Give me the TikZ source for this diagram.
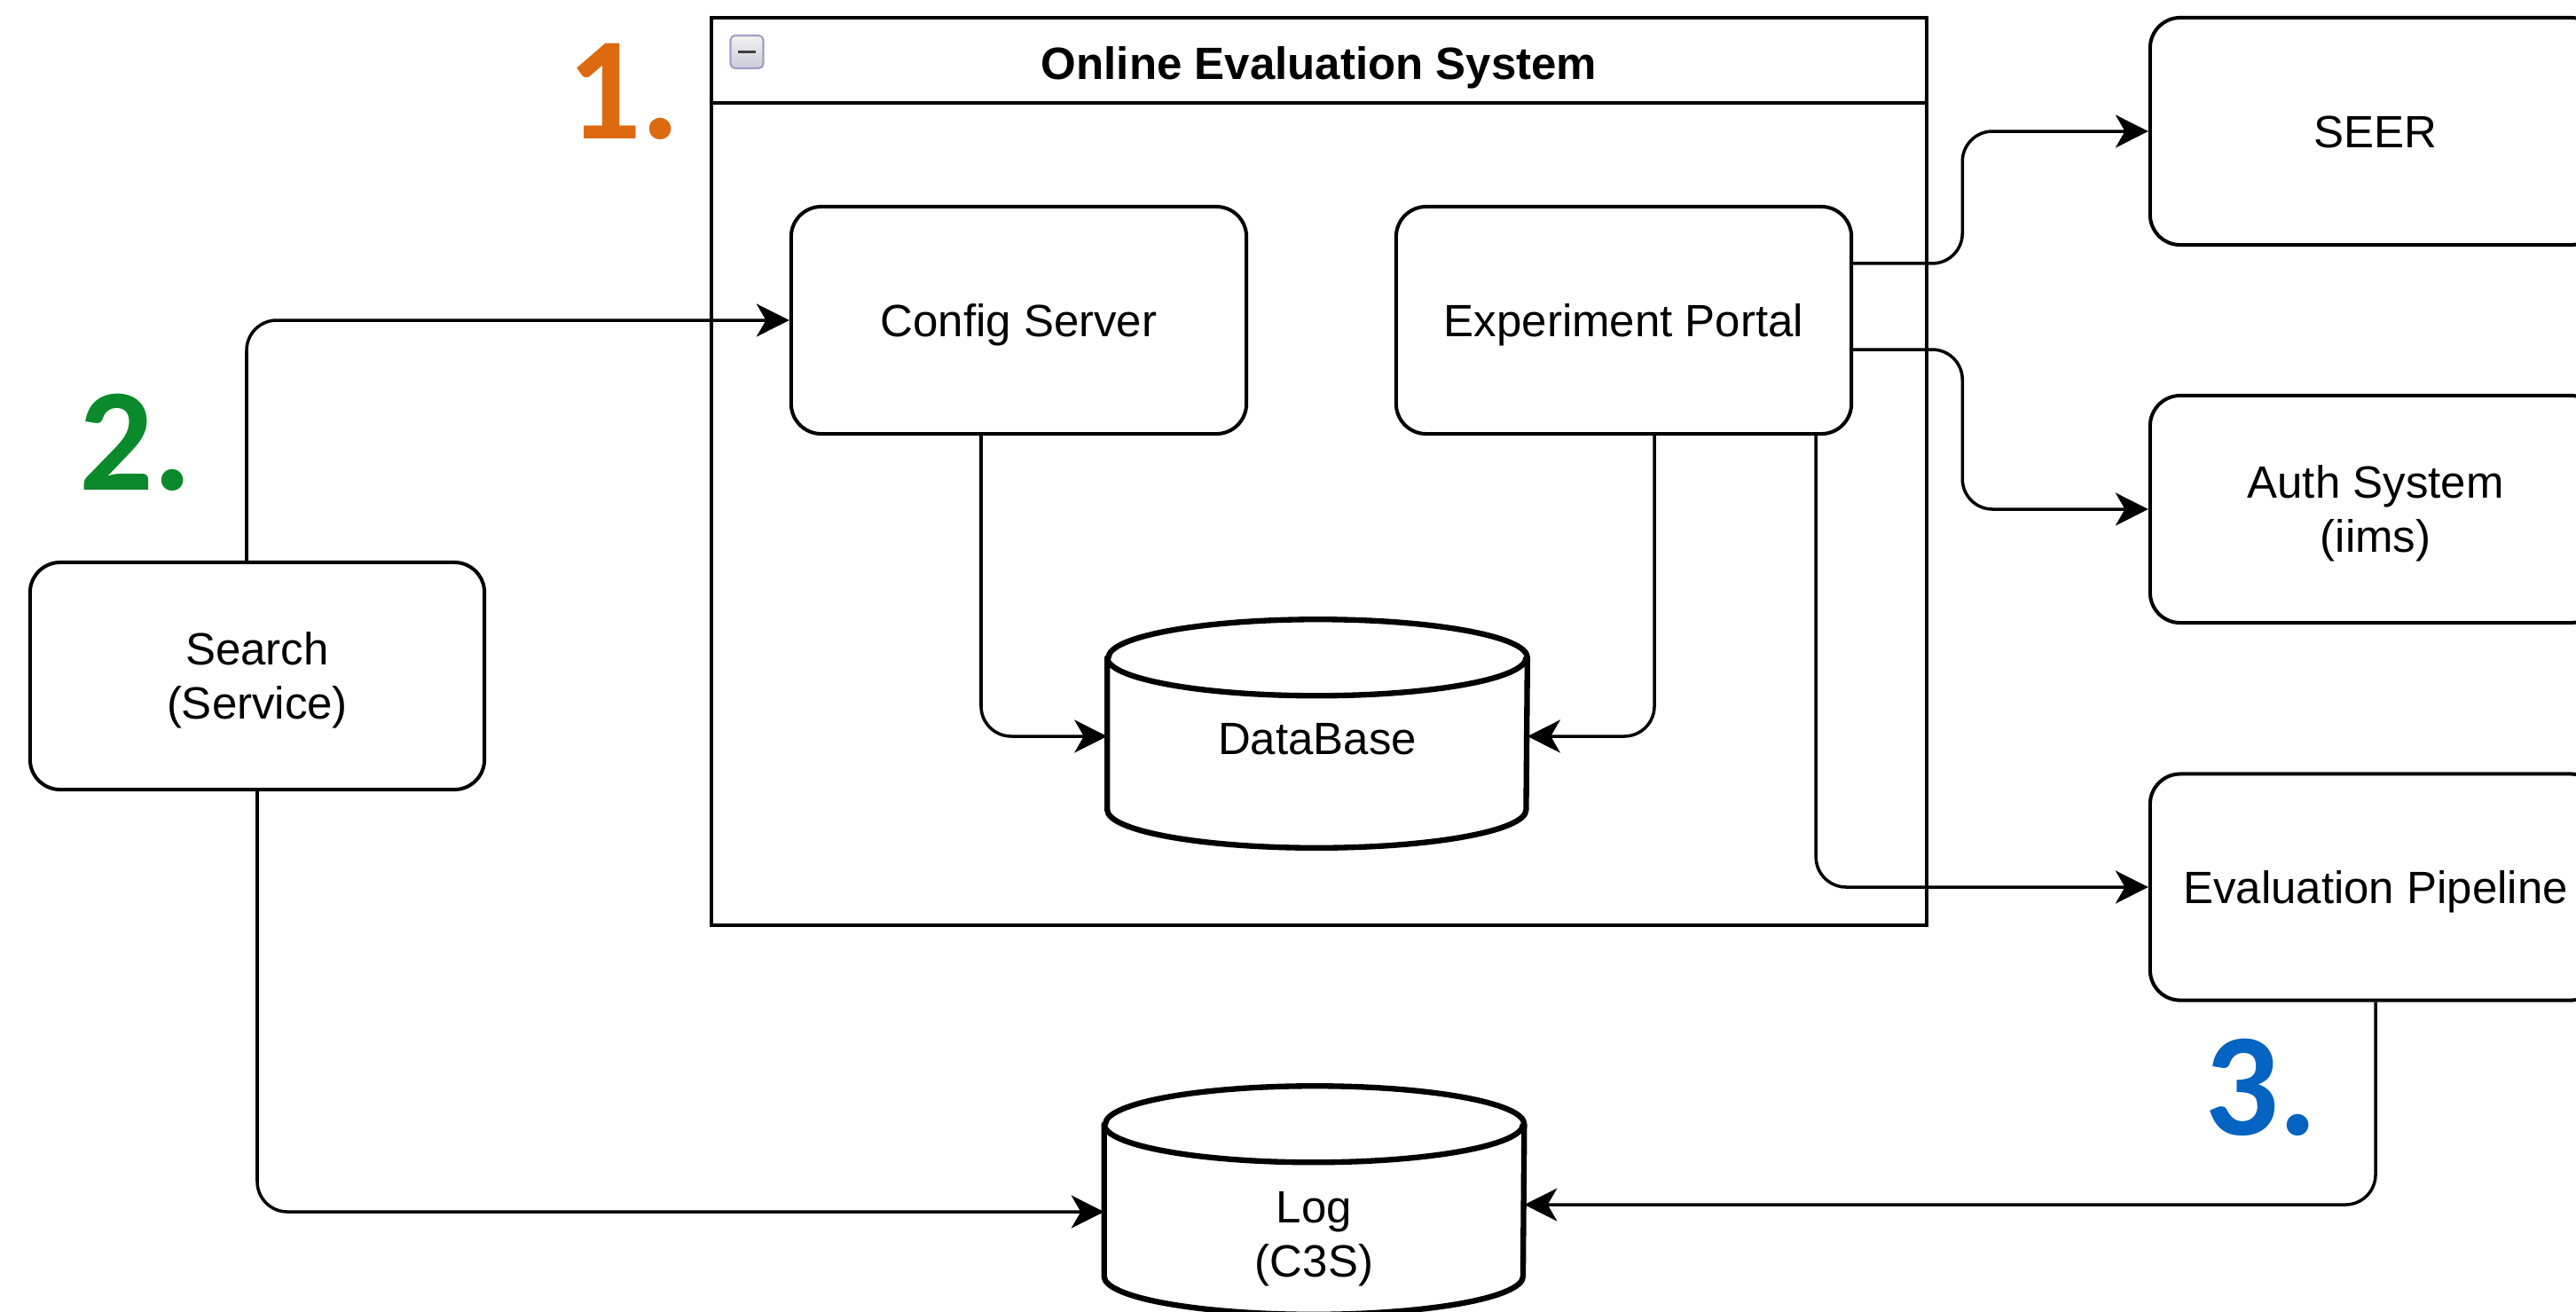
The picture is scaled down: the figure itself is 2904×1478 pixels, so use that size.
\documentclass[tikz,border=0pt]{standalone}
\usepackage{fontspec}
\setmainfont{Liberation Sans}
\newfontfamily\numfont{Carlito}
\usetikzlibrary{arrows.meta}

\definecolor{numorange}{HTML}{DD6A10}
\definecolor{numgreen}{HTML}{0B8A2C}
\definecolor{numblue}{HTML}{0563C1}

% database cylinder drawn over an empty node of the same size
\newcommand\drawcyl[1]{%
  \path[cyl] ([yshift=-0.43cm]#1.north west) -- ([yshift=0.43cm]#1.south west)
    arc[start angle=180, end angle=360, x radius=2.36cm, y radius=0.43cm]
    -- ([yshift=-0.43cm]#1.north east)
    arc[start angle=0, end angle=180, x radius=2.36cm, y radius=0.43cm] -- cycle;
  \draw[line width=1.8pt] ([yshift=-0.43cm]#1.north west)
    arc[start angle=180, end angle=360, x radius=2.36cm, y radius=0.43cm];}

\begin{document}
\begin{tikzpicture}[x=0.01cm, y=0.01cm,
  font=\fontsize{14.5pt}{17.4pt}\selectfont,
  lbl/.style={text height=10.4pt, text depth=0pt, align=center},
  lbltwo/.style={text height=27.8pt, text depth=0pt, align=center},
  svcbox/.style={draw, line width=1.15pt, rounded corners=0.34cm, fill=white,
    minimum width=5.12cm, minimum height=2.56cm, inner sep=0},
  svc/.style={svcbox, lbl},
  svctwo/.style={svcbox, lbltwo},
  cylbody/.style={minimum width=4.72cm, minimum height=2.56cm, inner sep=0},
  cyl/.style={draw, line width=1.8pt, fill=white, line join=round},
  conn/.style={line width=1pt, rounded corners=0.34cm,
    -{Stealth[length=10.5pt, width=10.5pt, inset=3pt]}},
  num/.style={font=\numfont\bfseries\fontsize{47pt}{47pt}\selectfont,
    anchor=base, inner sep=0}
]
\useasboundingbox (0,0) rectangle (2904,-1478);
\clip (0,0) rectangle (2904,-1478);

% container
\node[draw, line width=1.15pt, minimum width=13.70cm, minimum height=10.23cm,
  inner sep=0] (oes) at (1487,-531.5) {};
\draw[line width=1.15pt] ([yshift=-0.98cm]oes.north west) -- ([yshift=-0.98cm]oes.north east);
\node[lbl] (title) at (1487,-71) {\bfseries Online Evaluation System};
\node[draw=gray!75!blue!60, line width=0.6pt, rounded corners=1.5pt,
  top color=gray!10, bottom color=blue!15!gray!35, minimum size=0.37cm,
  inner sep=0] (collapse) at (842,-58.5) {};
\draw[line width=1.1pt, black!75] ([xshift=-0.1cm]collapse.center) -- ([xshift=0.1cm]collapse.center);

% services
\node[svctwo] (search) at (290,-762) {Search\\(Service)};
\node[svc, minimum width=5.13cm] (cfg) at (1148.5,-361) {Config Server};
\node[svc, minimum width=5.13cm] (portal) at (1830.5,-361) {Experiment Portal};
\node[svc, minimum width=5.08cm] (seer) at (2678,-148) {SEER};
\node[svctwo, minimum width=5.08cm] (auth) at (2678,-574) {Auth System\\(iims)};
\node[svc, minimum width=5.08cm, minimum height=2.55cm] (eval) at (2678,-1000) {Evaluation Pipeline};

% storage
\node[cylbody] (db) at (1485,-827) {};
\node[cylbody] (log) at (1481.5,-1353) {};
\drawcyl{db}
\drawcyl{log}
\node[lbl] (dbtext) at (1485,-832) {DataBase};
\node[lbltwo] (logtext) at (1481.5,-1391) {Log\\(C3S)};

% connectors
\draw[conn] ([xshift=-0.12cm]search.north) |- (cfg.west);
\draw[conn] (search.south) |- ([yshift=-0.13cm]log.west);
\draw[conn] (eval.south) |- ([yshift=-0.05cm]log.east);
\draw[conn] ([xshift=-0.425cm]cfg.south) |- ([yshift=-0.03cm]db.west);
\draw[conn] ([xshift=0.345cm]portal.south) |- ([yshift=-0.03cm]db.east);
\draw[conn] ([xshift=2.165cm]portal.south) |- (eval.west);
\draw[conn] ([yshift=0.64cm]portal.east) -- ++(1.23cm,0) |- (seer.west);
\draw[conn] ([yshift=-0.33cm]portal.east) -- ++(1.23cm,0) |- (auth.west);

% step numbers
\node[num, numorange] (n1) at (703,-156) {1.};
\node[num, numgreen] (n2) at (153,-552) {2.};
\node[num, numblue] (n3) at (2549,-1279) {3.};
\end{tikzpicture}
\end{document}
